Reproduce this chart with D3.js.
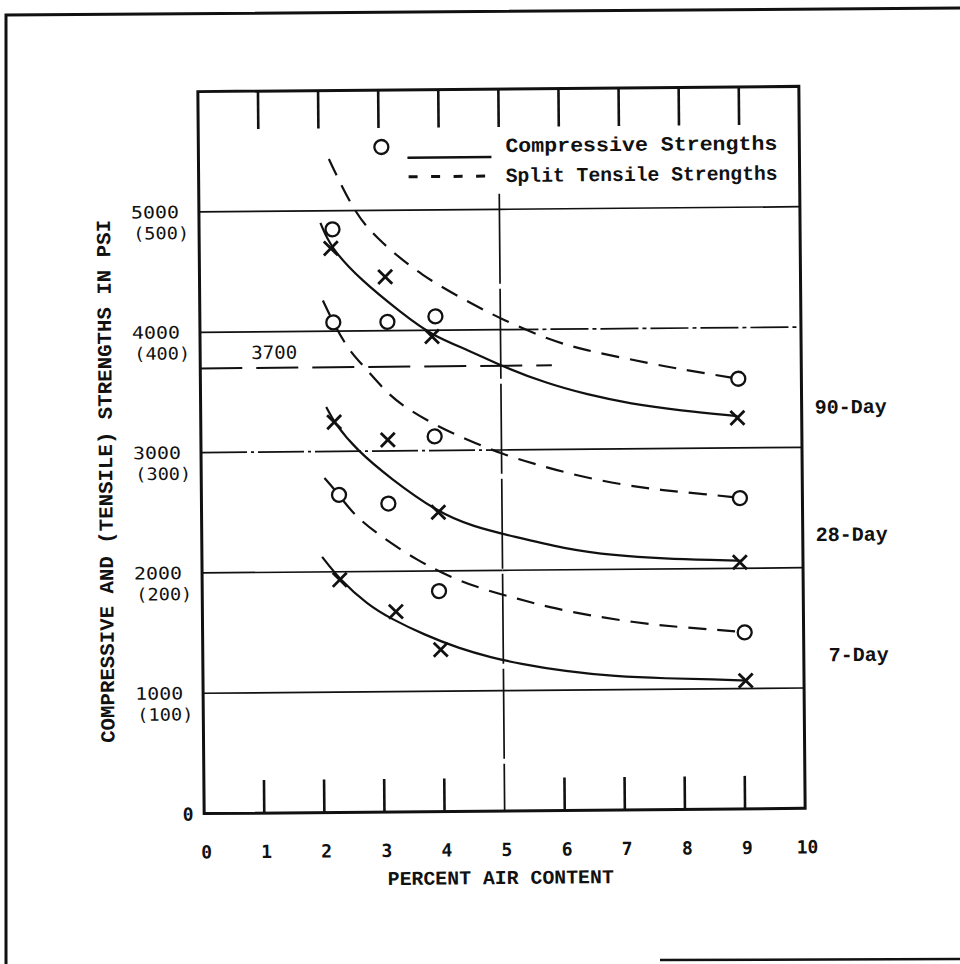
<!DOCTYPE html>
<html>
<head>
<meta charset="utf-8">
<script src="https://cdn.jsdelivr.net/npm/d3@7"></script>
<style>
  body { margin: 0; background: #fff; }
</style>
</head>
<body>
<script>
// axis ticks
var xTicks = [0, 1, 2, 3, 4, 5, 6, 7, 8, 9, 10];
var yTicks = [1000, 2000, 3000, 4000, 5000];
var yTickLabels = ["1000", "2000", "3000", "4000", "5000"];
var yTensileLabels = ["(100)", "(200)", "(300)", "(400)", "(500)"];

// age labels on the right, placed at a strength level
var ageLabels = ["90-Day", "28-Day", "7-Day"];
var ageLabelLevels = [3330, 2270, 1270];

// reference line at 3700 psi, drawn out to this air content
var refValue = 3700;
var refEnd = 5.85;

// fitted curves: [percent air, psi]
var comp90 = [[2.02,4900],[2.19,4690],[2.69,4420],[3.36,4145],[3.86,3955],[4.5,3825],[5.0,3700],[5.76,3550],[6.43,3455],[7.15,3375],[7.98,3315],[8.93,3265]];
var tens90 = [[2.17,5430],[2.57,5000],[2.92,4780],[3.69,4450],[4.59,4200],[5.01,4090],[5.81,3910],[6.43,3820],[7.1,3750],[7.76,3680],[8.26,3635],[8.95,3575]];
var comp28 = [[2.09,3370],[2.22,3240],[2.59,3010],[3.14,2775],[3.92,2490],[4.52,2365],[5.19,2280],[6.03,2175],[6.86,2115],[7.7,2085],[8.53,2070],[8.97,2062]];
var tens28 = [[2.05,4255],[2.22,4070],[2.47,3840],[2.75,3690],[3.14,3460],[3.47,3340],[3.94,3200],[4.42,3090],[5.0,2967],[5.59,2875],[6.26,2780],[7.03,2700],[7.65,2655],[8.26,2625],[8.96,2585]];
var comp7 = [[2.0,2125],[2.29,1935],[2.75,1725],[3.14,1605],[3.69,1470],[4.26,1355],[4.81,1275],[5.25,1225],[6.03,1155],[6.86,1110],[7.7,1090],[8.53,1078],[9.03,1066]];
var tens7 = [[2.05,2780],[2.29,2640],[2.52,2480],[2.92,2310],[3.59,2085],[4.14,1945],[4.69,1840],[5.25,1763],[5.76,1690],[6.43,1620],[7.15,1560],[7.86,1518],[8.53,1492],[9.02,1467]];

// test results: circles and crosses
var circles90 = [[2.22,4846],[3.12,4073],[3.92,4115],[8.95,3575]];
var circles28 = [[2.22,4073],[3.89,3118],[8.96,2583]];
var circles7 = [[2.29,2639],[3.11,2563],[3.94,1832],[9.02,1467]];
var crosses90 = [[2.19,4688],[3.09,4447],[3.86,3948],[8.93,3250]];
var crosses28 = [[2.22,3244],[3.11,3092],[3.94,2487],[8.95,2050]];
var crosses7 = [[2.29,1933],[3.22,1664],[3.96,1345],[9.03,1066]];

var W = 960, H = 964;
var ink = "#111";
var typeFont = "'Liberation Mono', 'DejaVu Sans Mono', monospace";
var numFont = "'DejaVu Sans Mono', monospace";

var svg = d3.select("body").append("svg")
  .attr("width", W)
  .attr("height", H);

// page border
svg.append("path")
  .attr("d", "M6,964 L6,15 L960,8")
  .attr("fill", "none")
  .attr("stroke", ink)
  .attr("stroke-width", 3);
svg.append("line")
  .attr("x1", 660).attr("y1", 960).attr("x2", 960).attr("y2", 959)
  .attr("stroke", ink).attr("stroke-width", 2.5);

var x = d3.scaleLinear().domain([0, 10]).range([201, 802]);
var y = d3.scaleLinear().domain([0, 6000]).range([811, 89]);

// the scanned sheet is a little tilted
var g = svg.append("g").attr("transform", "rotate(-0.5,500,450)");

// horizontal grid, drawn in two halves (some halves are dash-dot in the scan)
var gridDash = { "3000L": "46,4,3,4", "4000R": "38,4,4,4" };
[["L", 0, 5], ["R", 5, 10]].forEach(function(h) {
  g.selectAll(".grid" + h[0]).data(yTicks).join("line")
    .attr("class", "grid" + h[0])
    .attr("x1", x(h[1])).attr("x2", x(h[2]))
    .attr("y1", d => y(d)).attr("y2", d => y(d))
    .attr("stroke", ink)
    .attr("stroke-width", 1.7)
    .attr("stroke-dasharray", d => gridDash[d + h[0]] || null);
});

// vertical line at 5 %
g.append("line")
  .attr("x1", x(5)).attr("x2", x(5))
  .attr("y1", y(5130)).attr("y2", y(0))
  .attr("stroke", ink)
  .attr("stroke-width", 1.7)
  .attr("stroke-dasharray", "90,5");

// 3700 line
g.append("line")
  .attr("x1", x(0)).attr("x2", x(refEnd))
  .attr("y1", y(refValue)).attr("y2", y(refValue))
  .attr("stroke", ink)
  .attr("stroke-width", 2)
  .attr("stroke-dasharray", "42,14");
g.append("text")
  .attr("x", x(0.85)).attr("y", y(refValue) - 9)
  .attr("font-family", numFont).attr("font-size", 18)
  .attr("textLength", 46).attr("lengthAdjust", "spacingAndGlyphs")
  .attr("fill", ink)
  .text(refValue);

// frame
g.append("rect")
  .attr("x", x(0)).attr("y", y(6000))
  .attr("width", x(10) - x(0)).attr("height", y(0) - y(6000))
  .attr("fill", "none")
  .attr("stroke", ink)
  .attr("stroke-width", 3);

// top ticks
g.selectAll(".ttick").data(xTicks.slice(1, 10)).join("line")
  .attr("class", "ttick")
  .attr("x1", d => x(d)).attr("x2", d => x(d))
  .attr("y1", y(6000)).attr("y2", y(6000) + 38)
  .attr("stroke", ink).attr("stroke-width", 2.6);

// bottom ticks
g.selectAll(".btick").data(xTicks.filter(d => d > 0 && d < 10 && d !== 5)).join("line")
  .attr("class", "btick")
  .attr("x1", d => x(d)).attr("x2", d => x(d))
  .attr("y1", y(0)).attr("y2", y(0) - 33)
  .attr("stroke", ink).attr("stroke-width", 2.6);

// x tick labels
g.selectAll(".xlab").data(xTicks).join("text")
  .attr("class", "xlab")
  .attr("x", d => x(d) + 2)
  .attr("y", y(0) + 45)
  .attr("text-anchor", "middle")
  .attr("font-family", numFont).attr("font-size", 18)
  .attr("font-weight", "bold")
  .attr("fill", ink)
  .text(d => d);

// y tick labels, compressive over tensile
g.selectAll(".ylab").data(yTicks).join("text")
  .attr("class", "ylab")
  .attr("x", 133)
  .attr("y", d => y(d) + 6)
  .attr("font-family", numFont).attr("font-size", 17)
  .attr("textLength", 48).attr("lengthAdjust", "spacingAndGlyphs")
  .attr("fill", ink)
  .text((d, i) => yTickLabels[i]);
g.selectAll(".ylab2").data(yTicks).join("text")
  .attr("class", "ylab2")
  .attr("x", 135)
  .attr("y", d => y(d) + 27)
  .attr("font-family", numFont).attr("font-size", 17)
  .attr("textLength", 56).attr("lengthAdjust", "spacingAndGlyphs")
  .attr("fill", ink)
  .text((d, i) => yTensileLabels[i]);
g.append("text")
  .attr("x", 185).attr("y", y(0) + 7)
  .attr("text-anchor", "middle")
  .attr("font-family", numFont).attr("font-size", 18)
  .attr("font-weight", "bold")
  .attr("fill", ink)
  .text("0");

// axis titles
g.append("text")
  .attr("transform", "translate(112,478) rotate(-90)")
  .attr("text-anchor", "middle")
  .attr("font-family", typeFont).attr("font-size", 20).attr("font-weight", "bold")
  .attr("textLength", 523).attr("lengthAdjust", "spacingAndGlyphs")
  .attr("fill", ink)
  .text("COMPRESSIVE AND (TENSILE) STRENGTHS IN PSI");
g.append("text")
  .attr("x", 497).attr("y", y(0) + 73)
  .attr("text-anchor", "middle")
  .attr("font-family", typeFont).attr("font-size", 19.5).attr("font-weight", "bold")
  .attr("textLength", 226).attr("lengthAdjust", "spacingAndGlyphs")
  .attr("fill", ink)
  .text("PERCENT AIR CONTENT");

// age labels
g.selectAll(".age").data(ageLabels).join("text")
  .attr("class", "age")
  .attr("x", 887)
  .attr("y", (d, i) => y(ageLabelLevels[i]) + 6)
  .attr("text-anchor", "end")
  .attr("font-family", typeFont).attr("font-size", 20).attr("font-weight", "bold")
  .attr("textLength", d => d.length * 12).attr("lengthAdjust", "spacingAndGlyphs")
  .attr("fill", ink)
  .text(d => d);

// curves
var line = d3.line()
  .x(d => x(d[0]))
  .y(d => y(d[1]))
  .curve(d3.curveBasis);

var curves = [
  { pts: comp90, dash: null },
  { pts: comp28, dash: null },
  { pts: comp7, dash: null },
  { pts: tens90, dash: "18,11" },
  { pts: tens28, dash: "18,11" },
  { pts: tens7, dash: "18,11" }
];
g.selectAll(".curve").data(curves).join("path")
  .attr("class", "curve")
  .attr("d", d => line(d.pts))
  .attr("fill", "none")
  .attr("stroke", ink)
  .attr("stroke-width", 2.2)
  .attr("stroke-dasharray", d => d.dash);

// circle markers
var allCircles = circles90.concat(circles28, circles7);
g.selectAll(".circ").data(allCircles).join("circle")
  .attr("class", "circ")
  .attr("cx", d => x(d[0]))
  .attr("cy", d => y(d[1]))
  .attr("r", 7)
  .attr("fill", "#fff")
  .attr("stroke", ink)
  .attr("stroke-width", 2.3);

// cross markers
var allCrosses = crosses90.concat(crosses28, crosses7);
var s = 7;
g.selectAll(".cross").data(allCrosses).join("path")
  .attr("class", "cross")
  .attr("d", function(d) {
    var cx = x(d[0]), cy = y(d[1]);
    var p = d3.path();
    p.moveTo(cx - s, cy - s); p.lineTo(cx + s, cy + s);
    p.moveTo(cx + s, cy - s); p.lineTo(cx - s, cy + s);
    return p.toString();
  })
  .attr("fill", "none")
  .attr("stroke", ink)
  .attr("stroke-width", 2.8);

// legend
var lg = g.append("g");
lg.append("circle")
  .attr("cx", 384).attr("cy", 146).attr("r", 7)
  .attr("fill", "#fff").attr("stroke", ink).attr("stroke-width", 2.3);
lg.append("line")
  .attr("x1", 410).attr("x2", 494).attr("y1", 157).attr("y2", 157)
  .attr("stroke", ink).attr("stroke-width", 2.6);
lg.append("line")
  .attr("x1", 411).attr("x2", 490).attr("y1", 176).attr("y2", 176)
  .attr("stroke", ink).attr("stroke-width", 3)
  .attr("stroke-dasharray", "9,13.5");
lg.append("text")
  .attr("x", 508).attr("y", 152)
  .attr("font-family", typeFont).attr("font-size", 20).attr("font-weight", "bold")
  .attr("textLength", 272).attr("lengthAdjust", "spacingAndGlyphs")
  .attr("fill", ink)
  .text("Compressive Strengths");
lg.append("text")
  .attr("x", 508).attr("y", 182)
  .attr("font-family", typeFont).attr("font-size", 20).attr("font-weight", "bold")
  .attr("textLength", 272).attr("lengthAdjust", "spacingAndGlyphs")
  .attr("fill", ink)
  .text("Split Tensile Strengths");
</script>
</body>
</html>
